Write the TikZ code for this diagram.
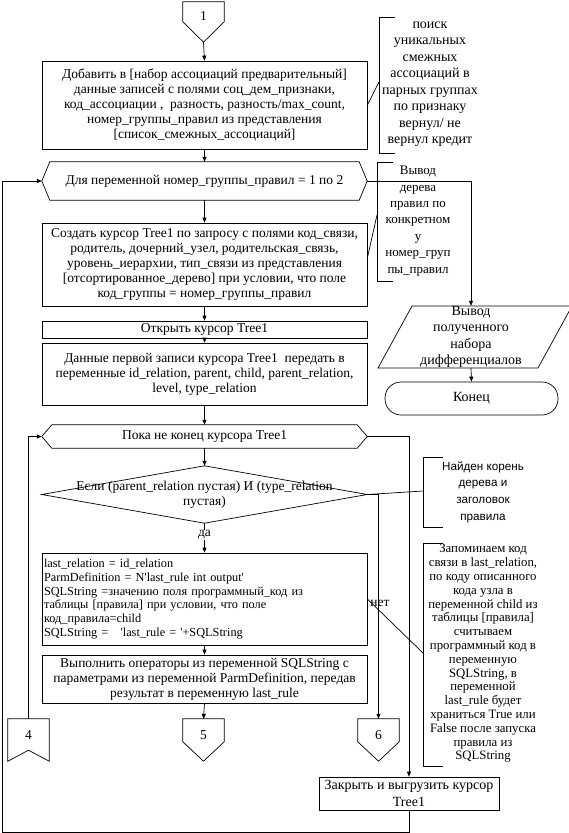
\documentclass[tikz,border=0pt]{standalone}
\usepackage{fontspec}
\setmainfont{Liberation Serif}
\newfontfamily\cmsans{Liberation Sans}
\newfontfamily\rawserif{Liberation Serif}
\newcommand\apos{{\rawserif\symbol{39}}}
\usetikzlibrary{arrows.meta,calc}
\newcommand\fsbox{\fontsize{13.5}{15}\selectfont}
\newcommand\fscode{\fontsize{12.3}{13.7}\selectfont}
\newcommand\fscmA{\fontsize{14}{16.5}\selectfont}
\newcommand\fscmC{\fontsize{13}{16.4}\selectfont}
\newcommand\fspar{\fontsize{14}{16.3}\selectfont}
\newcommand\fscmB{\fontsize{12.8}{13.8}\selectfont}
\newcommand\fscmS{\cmsans\fontsize{11.7}{16.7}\selectfont}
\begin{document}
\begin{tikzpicture}[x=1pt,y=-1pt,
  line/.style={line width=0.7pt},
  flow/.style={line,-{Triangle[length=5pt,width=4pt]}},
  box/.style={draw,line,rectangle,inner sep=0pt,align=center,font=\fsbox},
  shapetext/.style={inner sep=0pt,align=center,font=\fsbox},
  cmtext/.style={inner sep=0pt,align=center},
  lbl/.style={inner sep=1pt,font=\fsbox}]
\useasboundingbox (0,0) rectangle (568,833);

% connector 1
\node[shapetext,minimum width=41pt,minimum height=40pt] (c1) at (203.5,22) {};
\draw[line] (c1.north west) -- (c1.north east) -- ($(c1.north east)+(0,20)$) -- (c1.south) -- ($(c1.north west)+(0,20)$) -- cycle;
\node[shapetext] (c1t) at (203.5,16) {1};

% box 1
\node[box,minimum width=325pt,minimum height=88pt] (b1) at (204.5,105)
 {Добавить в [набор ассоциаций предварительный]\\
  данные записей с полями соц\_дем\_признаки,\\
  код\_ассоциации ,\ \ разность, разность/max\_count,\\
  номер\_группы\_правил из представления\\\relax
  [список\_смежных\_ассоциаций]};

% hexagon 1
\node[shapetext,minimum width=325pt,minimum height=38pt] (h1) at (204.5,181)
 {Для переменной номер\_группы\_правил = 1 по 2};
\draw[line] (h1.west) -- ($(h1.north west)+(8,0)$) -- ($(h1.north east)+(-8,0)$) -- (h1.east)
  -- ($(h1.south east)+(-8,0)$) -- ($(h1.south west)+(8,0)$) -- cycle;

% box 2
\node[box,minimum width=325pt,minimum height=83pt] (b2) at (204.5,264.5)
 {Создать курсор Tree1 по запросу с полями код\_связи,\\
  родитель, дочерний\_узел, родительская\_связь,\\
  уровень\_иерархии, тип\_связи из представления\\\relax
  [отсортированное\_дерево] при условии, что поле\\
  код\_группы = номер\_группы\_правил};

% box 3
\node[box,minimum width=325pt,minimum height=17pt] (b3) at (204.5,329.5) {Открыть курсор Tree1};

% box 4
\node[box,minimum width=325pt,minimum height=62pt] (b4) at (204.5,374)
 {Данные первой записи курсора Tree1\ \ передать в\\
  переменные id\_relation, parent, child, parent\_relation,\\
  level, type\_relation};

% hexagon 2
\node[shapetext,minimum width=325pt,minimum height=23pt] (h2) at (204.5,436.5) {Пока не конец курсора Tree1};
\draw[line] (h2.west) -- ($(h2.north west)+(10,0)$) -- ($(h2.north east)+(-10,0)$) -- (h2.east)
  -- ($(h2.south east)+(-10,0)$) -- ($(h2.south west)+(10,0)$) -- cycle;

% diamond
\node[shapetext,minimum width=325pt,minimum height=57pt] (d) at (204.5,494.5)
 {Если (parent\_relation пустая) И (type\_relation\\ пустая)};
\draw[line] (d.west) -- (d.north) -- (d.east) -- (d.south) -- cycle;

% box 5
\node[draw,line,rectangle,inner ysep=0pt,inner xsep=2pt,text width=321pt,minimum height=92pt,align=left,font=\fscode] (b5) at (204.5,599)
 {last\_relation = id\_relation\\
  ParmDefinition = N\apos last\_rule int output\apos\\
  SQLString =значению поля программный\_код из\\
  таблицы [правила] при условии, что поле\\
  код\_правила=child\\
  SQLString =\ \ \ \apos last\_rule = \apos+SQLString};

% box 6
\node[box,minimum width=325pt,minimum height=48pt] (b6) at (204.5,679)
 {Выполнить операторы из переменной SQLString с\\
  параметрами из переменной ParmDefinition, передав\\
  результат в переменную last\_rule};

% connectors 5, 6
\node[shapetext,minimum width=41pt,minimum height=42pt] (c5) at (203.5,740) {};
\draw[line] (c5.north west) -- (c5.north east) -- ($(c5.north east)+(0,23)$) -- (c5.south) -- ($(c5.north west)+(0,23)$) -- cycle;
\node[shapetext] (c5t) at (203.5,735) {5};
\node[shapetext,minimum width=41pt,minimum height=42pt] (c6) at (378.5,740) {};
\draw[line] (c6.north west) -- (c6.north east) -- ($(c6.north east)+(0,23)$) -- (c6.south) -- ($(c6.north west)+(0,23)$) -- cycle;
\node[shapetext] (c6t) at (378.5,735) {6};

% connector 4
\node[shapetext,minimum width=41pt,minimum height=42pt] (c4) at (28.5,740) {};
\draw[line] (c4.north west) -- (c4.north east) -- (c4.south east) -- ($(c4.south)+(0,-11)$) -- (c4.south west) -- cycle;
\node[shapetext] (c4t) at (28.5,735) {4};

% box 7
\node[box,minimum width=180pt,minimum height=33pt,font=\fspar,text depth=0pt] (b7) at (409,793.5) {Закрыть и выгрузить курсор\\ Tree1};

% parallelogram
\node[shapetext,minimum width=126pt,minimum height=62pt,font=\fspar] (p) at (471,337)
 {Вывод\\ полученного\\ набора\\ дифференциалов};
\coordinate (pTL) at (412,306); \coordinate (pTR) at (572,306);
\coordinate (pBR) at (538,368); \coordinate (pBL) at (378,368);
\draw[line] (pTL) -- (pTR) -- (pBR) -- (pBL) -- cycle;

% terminal
\node[draw,line,rounded corners=16pt,minimum width=173pt,minimum height=33pt,inner sep=0pt,font=\fspar] (t) at (471.5,398.5) {Конец};

% flow
\draw[flow] (c1.south) -- (b1.north);
\draw[flow] (b1.south) -- (h1.north);
\draw[flow] (h1.south) -- (b2.north);
\draw[flow] (b2.south) -- (b3.north);
\draw[flow] (b3.south) -- (b4.north);
\draw[flow] (b4.south) -- (h2.north);
\draw[flow] (h2.south) -- (d.north);
\draw[flow] (d.south) -- node[lbl,fill=white,pos=0.4] (yes) {да} (b5.north);
\draw[flow] (b5.south) -- (b6.north);
\draw[flow] (b6.south) -- (c5.north);
\draw[flow] (d.east) -| (c6.north);
\node[lbl] (no) at (380,603) {нет};
\draw[flow] (h2.east) -| (b7.north);
\coordinate (lb) at (2,832);
\draw[flow] (b7.south) |- (lb) |- (h1.west);
\draw[flow] (c4.north) |- (h2.west);
\draw[flow] (h1.east) -| (p.north);
\draw[flow] (p.south) -- (t.north);

% comment 1
\draw[line] (395,17) -- (379,17) -- (379,153) -- (395,153);
\coordinate (k1) at (379,82);
\draw[line] (b1.east) -- (k1);
\node[cmtext,font=\fscmA] (m1) at (430,84)
 {поиск\\ уникальных\\ смежных\\ ассоциаций в\\ парных группах\\ по признаку\\ вернул/ не\\ вернул кредит};

% comment 2
\draw[line] (393,162) -- (377,162) -- (377,281) -- (393,281);
\coordinate (k2) at (377,215);
\coordinate (b2r) at ($(b2.east)+(0,-6.5)$);
\draw[line] (b2r) -- (k2);
\node[cmtext,font=\fscmC] (m2) at (418,221)
 {Вывод\\ дерева\\ правил по\\ конкретном\\ у\\ номер\_груп\\ пы\_правил};

% comment 3
\draw[line] (443,457) -- (423,457) -- (423,527) -- (443,527);
\coordinate (k3) at (423,491);
\draw[line] (d.east) -- (k3);
\node[cmtext,font=\fscmS] (m3) at (483,492)
 {Найден корень\\ дерева и\\ заголовок\\ правила};

% comment 4
\draw[line] (443,543) -- (423,543) -- (423,766) -- (443,766);
\coordinate (k4) at (423,653);
\draw[line] (b5.east) -- (k4);
\node[cmtext,font=\fscmB] (m4) at (483,653.5)
 {Запоминаем код\\ связи в last\_relation,\\ по коду описанного\\ кода узла в\\ переменной child из\\ таблицы [правила]\\ считываем\\ программный код в\\ переменную\\ SQLString, в\\ переменной\\ last\_rule будет\\ храниться True или\\ False после запуска\\ правила из\\ SQLString};
\end{tikzpicture}
\end{document}
